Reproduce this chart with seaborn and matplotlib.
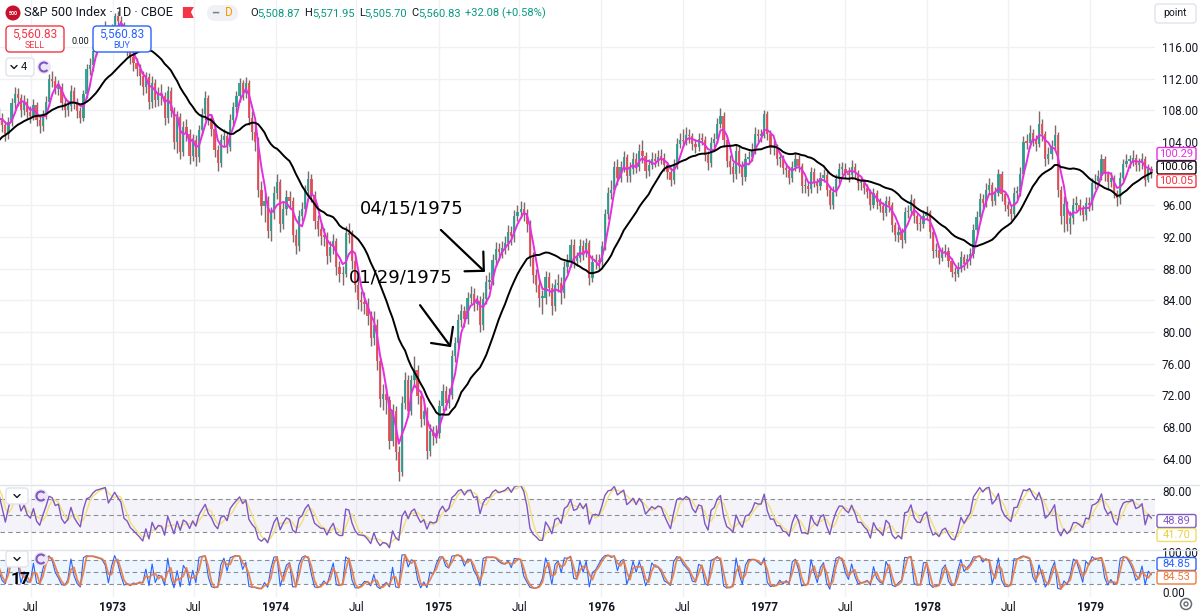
import numpy as np
import pandas as pd
import matplotlib.pyplot as plt
import matplotlib.dates as mdates
from matplotlib.patches import FancyBboxPatch, Circle, Arc, Polygon
from matplotlib.lines import Line2D
import seaborn as sns

# === Data: weekly S&P 500 candles (first 20 weeks are MA warm-up) ===
first_week = "1971-12-03"
first_open = 95.5

closes = [
    96.0, 97.7, 100.3, 100.7, 102.1, 102.7, 103.4, 103.7, 104.2, 104.0,
    103.9, 104.5, 105.0, 105.3, 106.0, 106.8, 106.5, 106.2, 106.9, 107.5,
    107.0, 106.2, 105.0, 106.5, 108.9, 110.0, 109.5, 108.0, 109.0, 107.8, 107.3,
    108.7, 106.8, 106.0, 107.4, 109.0, 111.9, 111.7, 110.7, 111.0, 108.9, 108.0, 108.5, 110.5,
    108.9, 107.9, 107.0, 110.0, 113.2, 113.7, 115.5, 116.9, 117.4, 117.9, 118.3, 116.7, 118.1,
    119.9, 119.3, 118.8, 116.5, 116.0, 114.7, 114.0, 113.2, 112.3, 111.0, 112.2, 109.0, 111.5,
    109.3, 110.0, 109.8, 107.0, 110.5, 107.9, 104.0, 107.1, 102.8, 105.9, 105.0, 102.2, 104.3,
    102.1, 105.5, 107.5, 109.6, 107.0, 105.6, 103.0, 101.4, 104.3, 104.8, 103.4, 106.8, 108.4,
    109.8, 111.4, 110.2, 111.4, 107.0, 105.3, 104.0, 98.0, 95.9, 96.5, 92.8, 95.0, 97.5,
    98.9, 93.7, 95.6, 97.1, 96.6, 92.3, 90.9, 94.7, 95.5, 97.8, 99.3, 97.3, 94.0,
    93.0, 92.1, 92.0, 89.6, 90.7, 91.5, 88.2, 87.3, 87.3, 92.5, 92.3, 89.0, 86.0,
    84.0, 83.8, 83.5, 82.0, 79.3, 80.9, 76.3, 71.6, 72.2, 71.4, 66.3, 70.1, 64.9,
    62.3, 71.1, 74.0, 70.1, 73.9, 75.2, 71.9, 69.0, 70.0, 65.0, 67.5, 66.9, 67.2,
    70.7, 72.6, 71.1, 72.1, 77.0, 78.6, 81.5, 82.6, 81.6, 84.3, 84.8, 83.6, 83.9,
    80.9, 84.2, 86.3, 86.6, 89.1, 90.5, 90.1, 90.6, 91.2, 92.6, 92.1, 94.6, 95.2,
    95.5, 95.0, 93.6, 89.3, 87.2, 86.0, 84.3, 84.3, 86.9, 85.6, 83.3, 85.9, 86.2,
    84.9, 88.2, 88.9, 91.0, 89.0, 89.3, 90.9, 90.0, 91.2, 86.8, 88.9, 89.1, 88.8,
    90.9, 94.9, 97.5, 98.0, 100.9, 99.5, 100.8, 102.1, 99.7, 100.6, 101.9, 100.9, 102.9,
    102.2, 100.3, 101.1, 101.9, 101.6, 102.1, 102.0, 101.1, 100.2, 99.2, 101.0, 103.8, 104.3,
    104.1, 104.9, 104.7, 103.8, 103.4, 104.4, 104.3, 102.4, 101.3, 103.9, 104.4, 106.3, 107.3,
    104.2, 101.6, 100.9, 99.9, 102.9, 101.0, 99.6, 101.9, 102.1, 103.0, 105.0, 104.8, 104.8, 107.5,
    105.0, 103.3, 103.3, 101.9, 101.9, 100.7, 100.5, 99.5, 100.9, 101.9, 101.0, 98.4,
    98.4, 98.1, 100.2, 99.0, 98.4, 99.5, 99.8, 98.0, 96.0, 97.7, 99.3, 100.6, 100.6,
    100.1, 99.8, 100.9, 100.1, 98.8, 98.8, 98.2, 97.7, 96.1, 97.5, 96.4, 95.9, 95.0, 96.5,
    96.0, 93.5, 92.3, 92.6, 91.6, 95.1, 95.3, 96.7, 94.6, 93.7, 93.6, 94.7, 95.1,
    92.7, 90.2, 90.4, 89.4, 90.1, 90.3, 89.0, 87.6, 87.3, 88.1, 89.5, 88.6, 89.2,
    89.8, 92.9, 94.5, 96.8, 96.3, 98.0, 98.6, 96.6, 97.6, 99.9, 97.4, 96.1, 95.5,
    94.9, 97.6, 97.7, 100.0, 104.0, 103.9, 105.1, 104.3, 103.7, 106.3, 105.0, 101.9, 102.5,
    103.5, 104.9, 97.9, 94.6, 96.2, 93.7, 94.4, 96.1, 96.1, 95.5, 94.8, 96.3, 96.1,
    98.8, 99.1, 99.7, 101.9, 99.9, 98.9, 99.4, 97.6, 96.9, 99.5, 101.2, 101.6, 101.6,
    102.0, 101.1, 101.3, 101.8, 99.2, 100.6, 100.05,
]

highs = [
    96.8, 98.4, 100.9, 101.5, 102.8, 103.4, 104.1, 104.4, 104.9, 104.9,
    104.6, 105.2, 105.8, 106.1, 106.8, 107.6, 107.5, 107.2, 107.7, 108.4,
    108.3, 107.6, 106.7, 107.2, 109.6, 111.0, 110.8, 110.1, 109.9, 109.6, 108.5,
    109.4, 109.1, 107.4, 108.1, 109.8, 112.6, 113.0, 112.3, 111.8, 111.4, 109.5, 109.3, 111.2,
    110.9, 109.6, 108.4, 110.6, 113.9, 114.6, 116.2, 117.6, 118.2, 118.6, 119.3, 118.8, 118.9,
    120.3, 120.6, 119.9, 119.2, 117.3, 116.7, 115.5, 114.6, 113.9, 113.0, 112.9, 112.7, 112.3,
    112.0, 110.9, 111.3, 110.3, 111.1, 111.0, 108.4, 107.9, 107.6, 106.6, 106.9, 105.6, 105.0,
    104.9, 106.2, 108.3, 110.5, 109.9, 107.5, 106.1, 103.6, 105.0, 105.6, 105.3, 107.5, 109.1,
    110.5, 112.1, 111.8, 112.2, 111.8, 107.9, 106.4, 104.6, 99.1, 97.6, 97.2, 95.8, 98.4,
    99.9, 99.3, 96.6, 97.9, 97.8, 97.0, 93.0, 95.4, 96.4, 98.6, 100.3, 99.9, 97.8,
    94.8, 93.9, 93.2, 92.6, 91.5, 92.4, 91.9, 89.0, 88.4, 93.4, 93.8, 92.9, 89.6,
    86.7, 85.2, 85.0, 84.3, 82.6, 82.7, 81.6, 76.9, 73.4, 73.1, 71.9, 70.9, 70.7,
    65.6, 71.9, 75.0, 74.6, 74.6, 77.0, 75.8, 72.5, 71.0, 70.5, 68.4, 68.2, 68.3,
    71.4, 73.5, 73.2, 73.0, 77.8, 79.4, 82.3, 83.6, 83.3, 85.1, 85.8, 85.6, 84.7,
    84.5, 85.0, 87.2, 87.6, 89.9, 91.4, 91.3, 91.5, 92.1, 93.5, 93.4, 95.4, 96.1,
    96.5, 96.4, 95.6, 94.2, 90.1, 88.0, 86.7, 85.3, 87.7, 87.6, 86.2, 86.7, 87.3,
    86.9, 89.0, 89.9, 91.8, 91.7, 90.1, 91.7, 91.6, 91.9, 91.6, 89.7, 89.9, 89.8,
    91.5, 95.6, 98.3, 99.2, 101.6, 101.8, 101.6, 102.9, 102.5, 101.5, 102.8, 102.6, 103.8,
    104.3, 102.8, 101.9, 102.7, 102.6, 103.0, 103.1, 102.6, 101.5, 100.9, 101.8, 104.5, 105.2,
    105.6, 105.9, 105.7, 105.2, 104.4, 105.1, 105.2, 104.8, 102.9, 104.6, 105.2, 107.0, 108.3,
    107.8, 104.7, 102.3, 101.5, 103.6, 103.5, 101.6, 102.6, 102.9, 103.9, 105.9, 105.7, 105.6, 108.1,
    107.9, 105.5, 104.2, 103.8, 102.7, 102.4, 101.3, 101.0, 101.6, 102.6, 102.4, 101.4,
    99.4, 99.0, 100.9, 100.7, 99.5, 100.2, 100.6, 100.3, 98.4, 98.4, 100.0, 101.3, 101.5,
    101.4, 100.8, 101.7, 101.4, 100.5, 99.6, 99.3, 98.7, 98.1, 98.2, 97.9, 96.9, 96.4, 97.2,
    97.2, 96.4, 93.9, 93.4, 93.1, 95.8, 96.1, 97.4, 96.9, 95.0, 94.5, 95.4, 95.9,
    95.4, 93.1, 91.2, 90.9, 90.8, 91.1, 90.7, 89.4, 88.2, 88.8, 90.2, 89.9, 89.9,
    90.6, 93.6, 95.3, 97.6, 97.4, 98.8, 99.5, 98.9, 98.3, 100.6, 100.3, 97.8, 96.6,
    96.0, 98.3, 98.5, 100.8, 104.8, 105.0, 106.2, 105.6, 104.9, 107.9, 106.9, 105.4, 103.4,
    104.3, 106.1, 105.3, 98.4, 97.2, 96.6, 95.3, 96.9, 97.2, 96.8, 96.0, 97.0, 97.1,
    99.4, 100.0, 100.5, 102.5, 102.2, 100.4, 100.2, 99.8, 98.0, 100.2, 101.9, 102.5, 102.4,
    103.0, 102.5, 102.0, 102.6, 102.2, 101.2, 101.0,
]

lows = [
    94.9, 95.6, 97.3, 99.6, 100.3, 101.6, 102.4, 102.8, 103.1, 103.3,
    102.9, 103.4, 104.0, 104.5, 104.7, 105.4, 105.7, 105.3, 105.6, 106.2,
    106.1, 105.3, 104.1, 104.4, 106.0, 108.2, 108.6, 107.1, 107.4, 107.0, 106.4,
    106.8, 106.0, 105.1, 105.4, 106.9, 108.5, 110.9, 110.0, 109.9, 108.1, 107.2, 107.3, 107.9,
    108.2, 107.0, 106.4, 106.6, 109.5, 112.5, 113.0, 114.9, 116.3, 116.7, 117.2, 115.9, 116.0,
    117.5, 118.4, 117.9, 115.6, 114.9, 113.8, 113.0, 112.3, 111.2, 109.9, 110.2, 108.2, 108.3,
    108.4, 108.5, 108.7, 106.1, 106.4, 107.1, 103.1, 102.6, 101.9, 102.2, 104.1, 101.2, 101.6,
    101.0, 101.5, 104.9, 106.8, 106.2, 104.8, 102.1, 100.4, 100.9, 103.5, 102.6, 102.9, 106.0,
    107.7, 109.1, 109.3, 109.6, 106.1, 104.3, 102.9, 97.0, 94.8, 93.9, 91.9, 91.5, 94.3,
    96.8, 92.6, 93.0, 94.8, 95.5, 91.4, 89.8, 90.2, 94.0, 94.9, 97.0, 96.4, 93.0,
    92.1, 91.0, 90.9, 88.6, 88.9, 89.8, 87.2, 86.3, 86.0, 86.9, 91.2, 88.0, 85.0,
    82.9, 82.6, 82.3, 80.9, 78.2, 78.4, 75.2, 70.5, 70.2, 69.6, 65.2, 65.6, 63.8,
    61.2, 61.8, 70.3, 69.3, 69.5, 73.1, 70.9, 68.0, 68.3, 64.0, 64.3, 65.8, 66.0,
    66.6, 70.0, 70.2, 70.4, 71.6, 76.2, 77.9, 80.7, 80.6, 81.0, 83.6, 82.6, 82.8,
    80.0, 80.3, 83.6, 85.4, 85.9, 88.4, 89.1, 89.3, 89.9, 90.4, 91.0, 91.4, 94.0,
    94.4, 94.0, 92.6, 88.3, 86.2, 85.0, 83.2, 82.3, 83.6, 84.6, 82.2, 82.6, 85.0,
    83.6, 84.3, 87.5, 88.2, 88.1, 88.3, 88.8, 89.1, 89.5, 86.0, 86.3, 88.0, 87.9,
    88.2, 90.4, 94.3, 96.8, 97.5, 98.6, 98.9, 100.2, 98.9, 99.0, 100.0, 100.1, 100.4,
    101.4, 99.5, 99.7, 100.6, 100.9, 101.0, 101.2, 100.3, 99.3, 98.5, 98.7, 100.6, 103.3,
    103.4, 103.6, 103.9, 103.0, 102.6, 102.9, 103.6, 101.6, 100.5, 100.9, 103.4, 103.9, 105.8,
    103.4, 100.8, 99.9, 98.9, 99.3, 100.1, 98.6, 99.1, 101.3, 101.6, 102.5, 104.0, 104.0, 104.5,
    104.2, 102.5, 102.4, 101.1, 100.9, 99.9, 99.6, 98.7, 99.0, 100.4, 100.2, 97.6,
    97.5, 97.2, 97.6, 98.3, 97.6, 97.9, 98.9, 97.2, 95.6, 95.5, 97.2, 98.8, 99.8,
    99.4, 99.0, 99.3, 99.4, 98.0, 98.0, 97.4, 96.9, 95.4, 95.7, 95.6, 95.1, 94.2, 94.6,
    95.2, 92.7, 91.5, 91.4, 90.6, 91.2, 94.4, 94.8, 93.8, 92.9, 92.8, 93.1, 94.2,
    91.9, 89.4, 89.5, 88.6, 89.0, 89.5, 88.2, 86.9, 86.5, 86.9, 87.6, 87.9, 88.1,
    88.5, 89.4, 92.4, 94.0, 95.4, 95.8, 97.4, 95.9, 96.0, 97.2, 96.6, 95.3, 94.7,
    94.1, 94.5, 96.8, 97.2, 99.6, 103.1, 103.2, 103.5, 102.9, 103.4, 104.1, 101.0, 101.2,
    101.8, 103.0, 97.0, 93.6, 92.6, 92.8, 92.4, 93.7, 95.3, 94.8, 94.0, 94.2, 95.3,
    95.4, 98.1, 98.4, 99.2, 99.1, 98.1, 98.3, 96.9, 95.9, 96.2, 99.1, 100.8, 100.7,
    101.0, 100.3, 100.4, 100.6, 98.4, 98.9, 99.4,
]

# indicator settings (weekly equivalents of the daily ones on the chart)
ma_fast_len, ma_slow_len = 4, 20
rsi_len, rsi_ma_len = 6, 3
stoch_len, stoch_d_len = 3, 2

x_tick_dates = ["1972-07-01", "1973-01-01", "1973-07-01", "1974-01-01", "1974-07-01",
                "1975-01-01", "1975-07-01", "1976-01-01", "1976-07-01", "1977-01-01",
                "1977-07-01", "1978-01-01", "1978-07-01", "1979-01-01"]
x_tick_labels = ["Jul", "1973", "Jul", "1974", "Jul", "1975", "Jul", "1976",
                 "Jul", "1977", "Jul", "1978", "Jul", "1979"]
price_ticks = [64, 68, 72, 76, 80, 84, 88, 92, 96, 100, 104, 108, 112, 116]
hidden_price_ticks = [100]  # sits under the last-value tags

notes = [("04/15/1975", "1975-04-15", 87.6, (-31.7, 30.2), (-53, 46)),
         ("01/29/1975", "1975-01-29", 78.1, (-22.3, 30.2), (-36, 50))]

last_ma_fast, last_ma_slow, last_close = "100.29", "100.06", "100.05"
last_rsi, last_rsi_ma = "48.89", "41.70"
last_k, last_d = "84.85", "84.53"

symbol_title = "S&P 500 Index · 1D · CBOE"
ohlc_parts = [("O", "5,508.87"), ("H", "5,571.95"), ("L", "5,505.70"), ("C", "5,560.83")]
ohlc_change = "+32.08 (+0.58%)"
quote_price = "5,560.83"

# === Colours ===
UP, DOWN, WICK = "#2a9d8f", "#e84a55", "#7d6a6a"
MAGENTA, PURPLE, YELLOW = "#e62ee0", "#7e57c2", "#f2e27e"
BLUE, ORANGE, TXT = "#2962ff", "#ec7a3c", "#131722"
GRID = "#f0f1f4"

# === Indicators ===
n = min(len(closes), len(highs), len(lows))
df = pd.DataFrame({"close": closes[:n], "high": highs[:n], "low": lows[:n]})
df["date"] = pd.date_range(first_week, periods=n, freq="W-FRI")
df["x"] = mdates.date2num(df["date"])
df["open"] = df["close"].shift(1).fillna(first_open)
df["ma_fast"] = df["close"].rolling(ma_fast_len).mean()
df["ma_slow"] = df["close"].rolling(ma_slow_len).mean()
delta = df["close"].diff()
gain = delta.clip(lower=0).ewm(alpha=1 / rsi_len, adjust=False).mean()
loss = (-delta.clip(upper=0)).ewm(alpha=1 / rsi_len, adjust=False).mean()
df["rsi"] = 100 - 100 / (1 + gain / loss)
df["rsi_ma"] = df["rsi"].rolling(rsi_ma_len).mean()
hh = df["high"].rolling(stoch_len).max()
ll = df["low"].rolling(stoch_len).min()
df["k"] = 100 * (df["close"] - ll) / (hh - ll)
df["d"] = df["k"].rolling(stoch_d_len).mean()

# === Figure ===
sns.set_style("white")
plt.rcParams["font.family"] = ["Roboto", "DejaVu Sans"]
W, H = 1200, 616
fig = plt.figure(figsize=(W / 100, H / 100), dpi=100)
fig.patch.set_facecolor("white")
right = 1155 / W


def panel(top, bottom):
    return fig.add_axes([0, 1 - bottom / H, right, (bottom - top) / H])


ax = panel(0, 484)
ax_rsi = panel(485, 549)
ax_st = panel(550, 597)

xt = mdates.date2num(pd.to_datetime(x_tick_dates))
x0, x1 = mdates.date2num(pd.Timestamp("1972-04-23")), mdates.date2num(pd.Timestamp("1979-05-26"))
for a in (ax, ax_rsi, ax_st):
    a.set_xlim(x0, x1)
    for s in a.spines.values():
        s.set_visible(False)
    for v in xt:
        a.axvline(v, color=GRID, lw=1, zorder=0)
    a.yaxis.tick_right()
    a.tick_params(axis="y", length=0, pad=5, labelsize=8.5, labelcolor=TXT)
    a.tick_params(axis="x", length=0)

# candles
up = df["close"] >= df["open"]
cols = np.where(up, UP, DOWN)
body_lo = df[["open", "close"]].min(axis=1)
body_hi = df[["open", "close"]].max(axis=1)
ax.vlines(df["x"], np.minimum(df["low"], body_lo), np.maximum(df["high"], body_hi),
          colors=WICK, lw=1.0, zorder=2)
ax.bar(df["x"], np.maximum(body_hi - body_lo, 0.2), bottom=body_lo, width=5.0,
       color=cols, lw=0, alpha=0.9, zorder=2)
sns.lineplot(x=df["x"], y=df["ma_fast"], ax=ax, color=MAGENTA, lw=1.4, zorder=3)
sns.lineplot(x=df["x"], y=df["ma_slow"], ax=ax, color="black", lw=1.4, zorder=3)
for p in price_ticks:
    ax.axhline(p, color=GRID, lw=1, zorder=0)
ax.set_ylim(60.82, 121.93)
ax.set_yticks(price_ticks)
ax.set_yticklabels(["" if p in hidden_price_ticks else f"{p:.2f}" for p in price_ticks])
ax.set_xticks([])
ax.set_xlabel("")
ax.set_ylabel("")

for label, day, price, tail, text_off in notes:
    tip = (mdates.date2num(pd.Timestamp(day)), price)
    ax.annotate("", xy=tip, xytext=tail, textcoords="offset points",
                arrowprops=dict(arrowstyle="->,head_length=0.7,head_width=0.7",
                                mutation_scale=14, lw=1.6, color="black",
                                shrinkA=0, shrinkB=0), zorder=6)
    ax.annotate(label, xy=tip, xytext=text_off, textcoords="offset points",
                ha="center", va="center", fontsize=13, color="black",
                family=["DejaVu Sans"], zorder=6)

# RSI panel
ax_rsi.axhspan(30, 70, color=PURPLE, alpha=0.07, lw=0, zorder=0)
for lvl in (70, 50, 30):
    ax_rsi.axhline(lvl, color="#8a8d96", lw=0.8, ls=(0, (4, 3)), zorder=1)
sns.lineplot(x=df["x"], y=df["rsi_ma"], ax=ax_rsi, color=YELLOW, lw=1.1, zorder=2)
sns.lineplot(x=df["x"], y=df["rsi"], ax=ax_rsi, color=PURPLE, lw=1.0, zorder=3)
ax_rsi.set_ylim(8.9, 87)
ax_rsi.set_yticks([80])
ax_rsi.set_yticklabels(["80.00"])
ax_rsi.set_xticks([])
ax_rsi.set_xlabel("")
ax_rsi.set_ylabel("")

# Stochastic panel
ax_st.axhspan(20, 80, color="#2196f3", alpha=0.08, lw=0, zorder=0)
for lvl in (80, 50, 20):
    ax_st.axhline(lvl, color="#8a8d96", lw=0.8, ls=(0, (4, 3)), zorder=1)
sns.lineplot(x=df["x"], y=df["k"], ax=ax_st, color=BLUE, lw=0.8, zorder=2)
sns.lineplot(x=df["x"], y=df["d"], ax=ax_st, color=ORANGE, lw=1.3, alpha=0.9, zorder=3)
ax_st.set_ylim(-11.4, 104.7)
ax_st.set_yticks([0, 100])
ax_st.set_yticklabels(["0.00", "100.00"])
ax_st.set_xticks(xt)
ax_st.set_xticklabels(x_tick_labels)
ax_st.tick_params(axis="x", pad=3, labelsize=8.5, labelcolor=TXT)
for t, s in zip(ax_st.get_xticklabels(), x_tick_labels):
    if s != "Jul":
        t.set_fontweight("bold")
ax_st.set_xlabel("")
ax_st.set_ylabel("")

# === Overlays in pixel coordinates (top-left origin) ===
tr = fig.dpi_scale_trans


def txt(x, y, s, **kw):
    kw.setdefault("va", "center")
    return fig.text(x / 100, (H - y) / 100, s, transform=tr, zorder=8, **kw)


def box(xa, ya, xb, yb, ec, fc="white", lw=1.0, r=3):
    fig.add_artist(FancyBboxPatch((xa / 100, (H - yb) / 100), (xb - xa) / 100, (yb - ya) / 100,
                                  boxstyle=f"round,pad=0,rounding_size={r / 100}",
                                  transform=tr, ec=ec, fc=fc, lw=lw, zorder=7))


def chevron(x, y):
    fig.add_artist(Line2D([(x - 3) / 100, x / 100, (x + 3) / 100],
                          [(H - y + 1.5) / 100, (H - y - 1.5) / 100, (H - y + 1.5) / 100],
                          transform=tr, color=TXT, lw=1, zorder=8))


def sync_icon(x, y):
    fig.add_artist(Circle((x / 100, (H - y) / 100), 0.07, transform=tr, fc="#ece6f8", ec="none", zorder=7))
    fig.add_artist(Arc((x / 100, (H - y) / 100), 0.09, 0.09, theta1=40, theta2=320, transform=tr,
                       color=PURPLE, lw=1.5, zorder=8))


def value_tag(y, s, color, text_color=None):
    box(1157, y - 6.5, 1196, y + 6.5, ec=color, lw=1.0, r=2)
    txt(1176.5, y, s, ha="center", color=text_color or color, fontsize=8.0)


# header
fig.add_artist(Circle((13 / 100, (H - 13) / 100), 0.075, transform=tr, fc="#c8102e", ec="none", zorder=8))
txt(13, 13.5, "500", ha="center", color="white", fontsize=3.8, fontweight="bold")
rend = fig.canvas.get_renderer()
t = txt(24, 13, symbol_title, ha="left", color=TXT, fontsize=9.2)
tx = 24 + t.get_window_extent(rend).width + 10
fig.add_artist(Polygon([(tx / 100, (H - 7) / 100), ((tx + 11) / 100, (H - 7) / 100),
                        ((tx + 8) / 100, (H - 12) / 100), ((tx + 11) / 100, (H - 18) / 100),
                        (tx / 100, (H - 18) / 100)], closed=True, transform=tr,
                       fc="#f23645", ec="none", zorder=8))
box(207, 5, 238, 21, ec="none", fc="#eff1f5", r=8)
txt(215, 13, "–", ha="center", color="#787b86", fontsize=9, fontweight="bold")
txt(229, 13, "D", ha="center", color="#ff9800", fontsize=8.5)
cx = 250
for k, v in ohlc_parts:
    t = txt(cx, 13, k, ha="left", color=TXT, fontsize=8)
    cx += t.get_window_extent(rend).width
    t = txt(cx, 13, v, ha="left", color="#089981", fontsize=8)
    cx += t.get_window_extent(rend).width + 4
txt(cx, 13, ohlc_change, ha="left", color="#089981", fontsize=8)

# quote boxes
box(6, 26, 64, 52, ec="#f23645", fc="white", r=4)
txt(35, 34, quote_price, ha="center", color="#f23645", fontsize=8.5)
txt(35, 45.5, "SELL", ha="center", color="#f23645", fontsize=6.5)
txt(80, 41, "0.00", ha="center", color=TXT, fontsize=6.5)
box(93, 26, 151, 52, ec="#2962ff", fc="white", r=4)
txt(122, 34, quote_price, ha="center", color="#2962ff", fontsize=8.5)
txt(122, 45.5, "BUY", ha="center", color="#2962ff", fontsize=6.5)

# collapse controls
box(6, 58, 34, 76, ec="#e0e3eb", fc="white", r=3)
chevron(14, 67)
txt(24, 67, "4", ha="center", color=TXT, fontsize=8)
sync_icon(44, 67)
box(6, 488, 28, 504, ec="#e0e3eb", fc="white", r=3)
chevron(17, 496)
sync_icon(41, 496)
box(6, 551, 28, 567, ec="#e0e3eb", fc="white", r=3)
chevron(17, 559)
sync_icon(41, 559)
txt(21, 579, "17", ha="center", color="black", fontsize=12.5, fontweight="bold")

# price-scale unit and gear
box(1155, 4, 1196, 23, ec="#e0e3eb", fc="white", r=3)
txt(1175.5, 13.5, "point", ha="center", color=TXT, fontsize=7.5)
fig.add_artist(Circle((1186 / 100, (H - 604) / 100), 0.055, transform=tr, fc="none", ec="#6a6d78", lw=1.1, zorder=8))
fig.add_artist(Circle((1186 / 100, (H - 604) / 100), 0.02, transform=tr, fc="none", ec="#6a6d78", lw=1.0, zorder=8))

# last-value tags on the right scale
value_tag(154, last_ma_fast, MAGENTA)
value_tag(167.5, last_ma_slow, "black")
value_tag(181, last_close, "#f23645")
value_tag(521, last_rsi, PURPLE)
value_tag(535, last_rsi_ma, "#f0dc6a", "#e8cf45")
value_tag(564, last_k, BLUE)
value_tag(577.5, last_d, ORANGE)

# panel separators
for yy in (484.5, 549.5):
    fig.add_artist(Line2D([0, W / 100], [(H - yy) / 100] * 2, transform=tr, color="#e0e3eb", lw=1, zorder=6))

fig.savefig("out.png", dpi=100, facecolor="white")
